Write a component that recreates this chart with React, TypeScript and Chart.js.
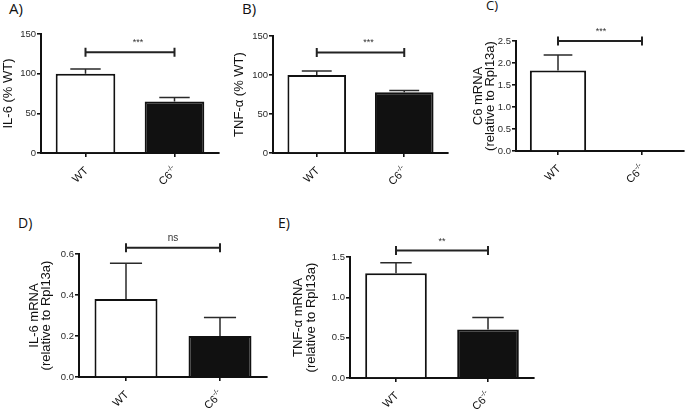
import React, { useEffect, useRef } from "react";
import { Chart, registerables } from "chart.js";

Chart.register(...registerables);

// ---------- data ----------
const categories = ["WT", "C6-/-"];

const il6Values = [100, 65];
const il6Errors = [6, 5];
const tnfValues = [100, 78];
const tnfErrors = [5, 2];
const c6mRnaValues = [1.83, 0];
const c6mRnaErrors = [0.35, 0];
const il6mRnaValues = [0.38, 0.2];
const il6mRnaErrors = [0.175, 0.09];
const tnfmRnaValues = [1.3, 0.6];
const tnfmRnaErrors = [0.13, 0.15];

const yMaxes = [150, 150, 2.5, 0.6, 1.5];
const ySteps = [50, 50, 0.5, 0.2, 0.5];
const yDecimals = [0, 0, 1, 1, 1];
const sigLevels = [127, 129, 2.5, 0.63, 1.58];
const sigTexts = ["***", "***", "***", "ns", "**"];
const yTitles = [
  ["IL-6 (% WT)"],
  ["TNF-\u03b1 (% WT)"],
  ["C6 mRNA", "(relative to Rpl13a)"],
  ["IL-6 mRNA", "(relative to Rpl13a)"],
  ["TNF-\u03b1 mRNA", "(relative to Rpl13a)"],
];
const panelLetters = ["A)", "B)", "C)", "D)", "E)"];

const panelValues = [il6Values, tnfValues, c6mRnaValues, il6mRnaValues, tnfmRnaValues];
const panelErrors = [il6Errors, tnfErrors, c6mRnaErrors, il6mRnaErrors, tnfmRnaErrors];

// ---------- layout (pixels) ----------
const W_PAGE = 685;
const H_PAGE = 411;
const FONT = "'Liberation Sans', Arial, sans-serif";

// chart area left/right/top/bottom, first title line center x, star x offset
const layouts = [
  { L: 41, R: 219, T: 34, B: 153, c1: 8, starDx: 8 },
  { L: 273, R: 448, T: 36, B: 153, c1: 239, starDx: 8 },
  { L: 516, R: 684, T: 41, B: 151, c1: 478, starDx: 1 },
  { L: 79, R: 267, T: 254, B: 377, c1: 34, starDx: 0 },
  { L: 350, R: 534, T: 257, B: 378, c1: 298.5, starDx: 0 },
];
const letterPos = [
  { x: 9, y: 1, size: 15 },
  { x: 242, y: 1, size: 15 },
  { x: 486, y: -1, size: 13 },
  { x: 18, y: 216, size: 14 },
  { x: 278, y: 216, size: 14 },
];

const TITLE_SIZE = 13;
const TITLE_LH = 0.96;
const X_AXIS_H = 30;

function makeOverlay(idx: number) {
  return {
    id: "overlay" + idx,
    afterDraw(chart: any) {
      const ctx = chart.ctx as CanvasRenderingContext2D;
      const xs = chart.scales.x;
      const ys = chart.scales.y;
      const meta = chart.getDatasetMeta(0);
      const vals = panelValues[idx];
      const errs = panelErrors[idx];
      ctx.save();
      // error bars (upper whisker only)
      ctx.strokeStyle = "#2a2a2a";
      ctx.lineWidth = 1.5;
      meta.data.forEach((bar: any, i: number) => {
        const e = errs[i];
        if (!e) return;
        const yTop = ys.getPixelForValue(vals[i] + e);
        const yBar = ys.getPixelForValue(vals[i]);
        const half = bar.width * 0.255;
        ctx.beginPath();
        ctx.moveTo(bar.x, yBar);
        ctx.lineTo(bar.x, yTop);
        ctx.moveTo(bar.x - half, yTop);
        ctx.lineTo(bar.x + half, yTop);
        ctx.stroke();
      });
      // significance bracket
      const sy = ys.getPixelForValue(sigLevels[idx]);
      const x0 = xs.getPixelForValue(0);
      const x1 = xs.getPixelForValue(1);
      ctx.lineWidth = 2;
      ctx.strokeStyle = "#222";
      ctx.beginPath();
      ctx.moveTo(x0, sy);
      ctx.lineTo(x1, sy);
      ctx.moveTo(x0, sy - 4.5);
      ctx.lineTo(x0, sy + 4.5);
      ctx.moveTo(x1, sy - 4.5);
      ctx.lineTo(x1, sy + 4.5);
      ctx.stroke();
      const txt = sigTexts[idx];
      ctx.fillStyle = "#333";
      ctx.textAlign = "center";
      ctx.textBaseline = "alphabetic";
      const mid = (x0 + x1) / 2 + layouts[idx].starDx;
      if (txt === "ns") {
        ctx.font = "10px " + FONT;
        ctx.fillText(txt, mid, sy - 7);
      } else {
        ctx.font = "9px " + FONT;
        ctx.fillText(txt, mid, sy - 7);
      }
      // x labels rotated 45deg with superscript
      ctx.fillStyle = "#111";
      categories.forEach((c, i) => {
        const px = xs.getPixelForValue(i) + 1;
        const py = chart.chartArea.bottom + 16;
        ctx.save();
        ctx.translate(px, py);
        ctx.rotate(-Math.PI / 4);
        ctx.textBaseline = "middle";
        const m = c.match(/^(.*?)(-\/-)$/);
        if (m) {
          ctx.font = "11px " + FONT;
          const w1 = ctx.measureText(m[1]).width;
          ctx.font = "7px " + FONT;
          const w2 = ctx.measureText(m[2]).width;
          ctx.textAlign = "left";
          ctx.font = "11px " + FONT;
          ctx.fillText(m[1], -(w1 + w2), 0);
          ctx.font = "7px " + FONT;
          ctx.fillText(m[2], -w2, -4);
        } else {
          ctx.textAlign = "right";
          ctx.font = "11px " + FONT;
          ctx.fillText(c, 0, 0);
        }
        ctx.restore();
      });
      ctx.restore();
    },
  };
}

function Panel({ idx }: { idx: number }) {
  const ref = useRef<HTMLCanvasElement | null>(null);
  useEffect(() => {
    if (!ref.current) return;
    const lay = layouts[idx];
    const lines = yTitles[idx];
    const lh = TITLE_SIZE * (lines.length > 1 ? TITLE_LH : 1);
    const yW = lay.L - (lay.c1 - lh / 2);
    const chart = new Chart(ref.current, {
      type: "bar",
      data: {
        labels: categories,
        datasets: [
          {
            data: panelValues[idx],
            backgroundColor: ["#ffffff", "#111111"],
            borderColor: "#111111",
            borderWidth: 2,
            barPercentage: 0.67,
            categoryPercentage: 1,
          },
        ],
      },
      options: {
        responsive: false,
        animation: false,
        layout: {
          padding: {
            left: lay.L - yW,
            top: lay.T,
            right: W_PAGE - lay.R,
            bottom: H_PAGE - lay.B - X_AXIS_H,
          },
        },
        plugins: { legend: { display: false }, tooltip: { enabled: false } },
        scales: {
          x: {
            type: "category",
            offset: true,
            ticks: { display: false },
            grid: {
              display: true,
              drawOnChartArea: false,
              drawTicks: true,
              tickLength: 4,
              offset: false,
              color: "#111",
              lineWidth: 1.6,
            },
            border: { display: true, color: "#111", width: 2 },
            afterFit: (s: any) => {
              s.height = X_AXIS_H;
            },
          },
          y: {
            min: 0,
            max: yMaxes[idx],
            ticks: {
              stepSize: ySteps[idx],
              padding: 1,
              color: "#2a2a2a",
              font: { family: FONT, size: 9.5 },
              callback: (v: any) => Number(v).toFixed(yDecimals[idx]),
            },
            grid: {
              display: true,
              drawOnChartArea: false,
              drawTicks: true,
              tickLength: 4,
              color: "#111",
              lineWidth: 1.6,
            },
            border: { display: true, color: "#111", width: 2 },
            title: {
              display: true,
              text: lines,
              color: "#111",
              padding: 0,
              font: {
                family: FONT,
                size: TITLE_SIZE,
                lineHeight: lines.length > 1 ? TITLE_LH : 1,
              },
            },
            afterFit: (s: any) => {
              s.width = yW;
            },
          },
        },
      } as any,
      plugins: [makeOverlay(idx)],
    });
    return () => chart.destroy();
  }, [idx]);
  return (
    <canvas
      ref={ref}
      width={W_PAGE}
      height={H_PAGE}
      style={{ position: "absolute", left: 0, top: 0, width: W_PAGE, height: H_PAGE }}
    />
  );
}

export default function App() {
  return (
    <div
      style={{
        position: "fixed",
        left: 0,
        top: 0,
        width: W_PAGE,
        height: H_PAGE,
        background: "#fff",
        overflow: "hidden",
      }}
    >
      {panelLetters.map((t, i) => (
        <div
          key={t}
          style={{
            position: "absolute",
            left: letterPos[i].x,
            top: letterPos[i].y,
            fontFamily: "'Open Sans', sans-serif",
            fontSize: letterPos[i].size,
            lineHeight: 1,
            color: "#111",
          }}
        >
          {t}
        </div>
      ))}
      {[0, 1, 2, 3, 4].map((i) => (
        <Panel key={i} idx={i} />
      ))}
    </div>
  );
}
